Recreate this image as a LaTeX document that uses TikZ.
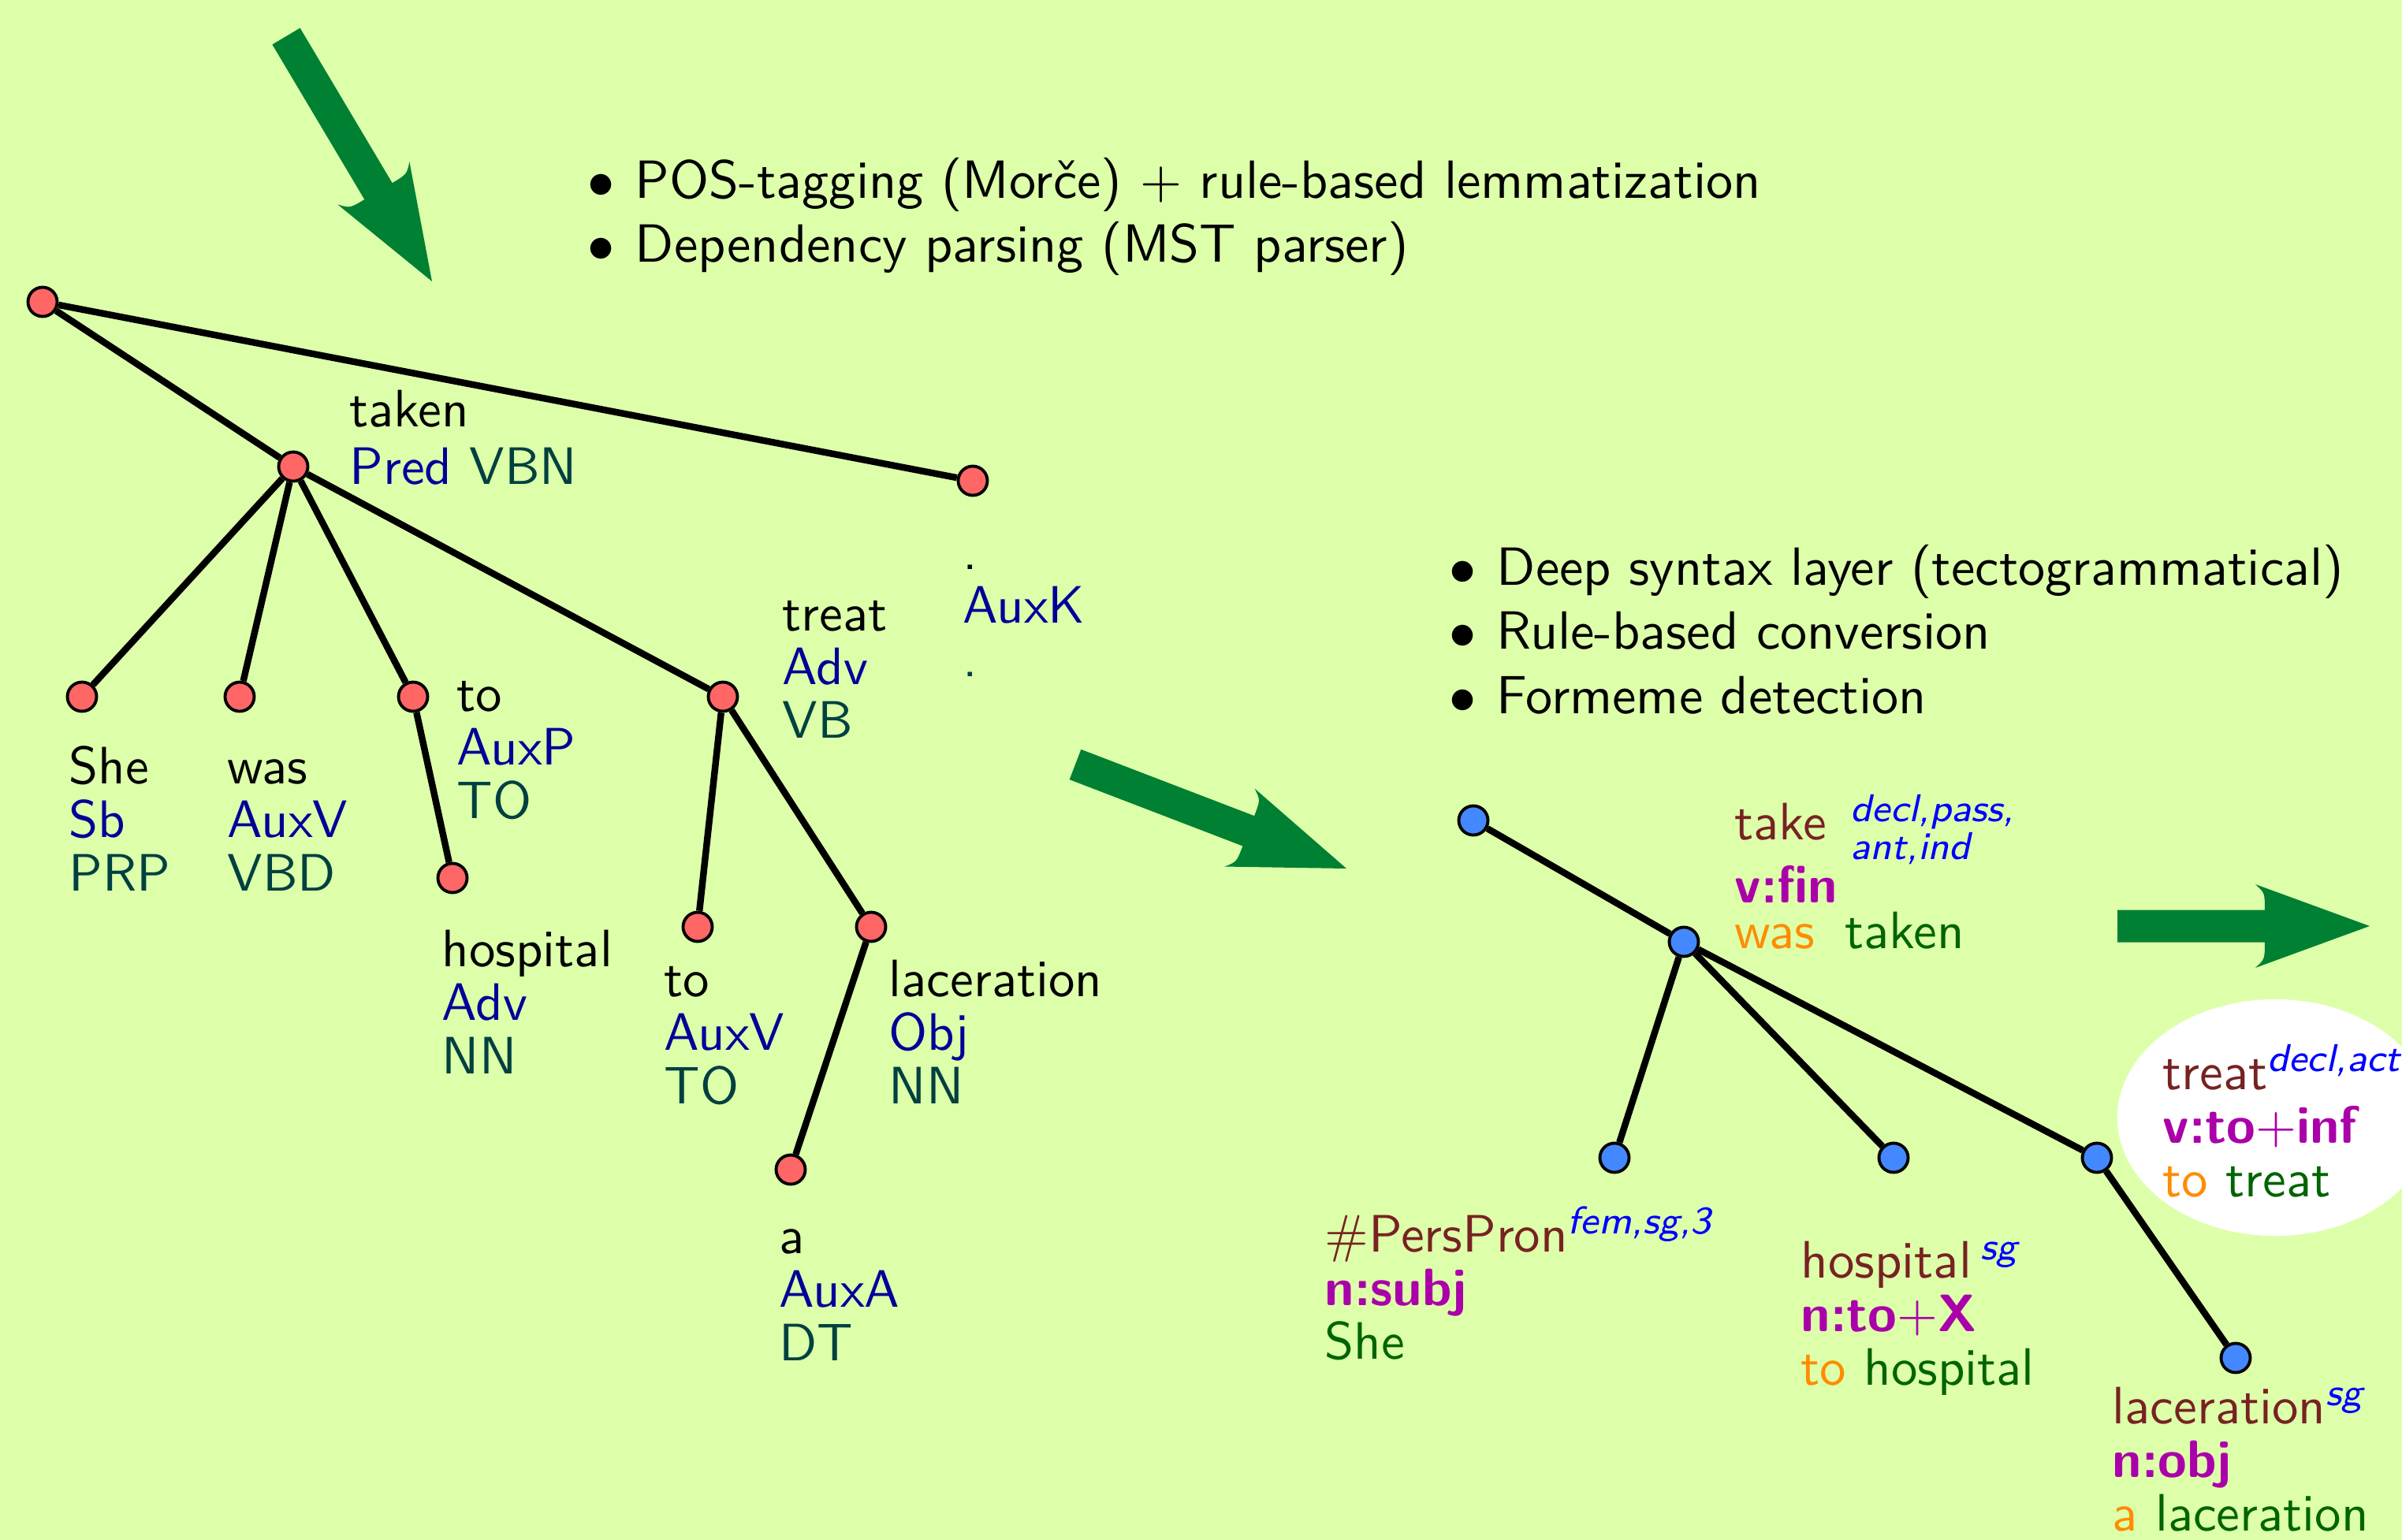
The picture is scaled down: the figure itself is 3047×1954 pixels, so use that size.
\documentclass[tikz,border=0pt]{standalone}
\usepackage{graphicx}
\usetikzlibrary{calc}
\definecolor{bgc}{HTML}{DDFFAA}
\definecolor{arrowgreen}{HTML}{008033}
\definecolor{fnblue}{HTML}{000099}
\definecolor{tagteal}{HTML}{004040}
\definecolor{lemred}{HTML}{772222}
\definecolor{gramblue}{HTML}{0000FF}
\definecolor{frmmag}{HTML}{AA00AA}
\definecolor{auxorange}{HTML}{FF8C00}
\definecolor{cwgreen}{HTML}{006400}
\definecolor{rednode}{HTML}{FF6666}
\definecolor{bluenode}{HTML}{4488FF}
\pgfdeclarelayer{back}
\pgfdeclarelayer{edges}
\pgfsetlayers{back,edges,main}
\newcommand\lblfont{\fontsize{10}{10.18}\selectfont\sffamily}
\newcommand\bulfont{\fontsize{10}{11.96}\selectfont\sffamily}
\newcommand\gramfont{\fontsize{7.37}{7.19}\selectfont\sffamily\slshape}
\newcommand\stk[1]{\scalebox{1.9}{\begin{tabular}[t]{@{}l@{}}#1\end{tabular}}}
\newcommand\bstk[1]{\scalebox{1.94}{\begin{tabular}[t]{@{}l@{}}#1\end{tabular}}}
\newcommand\bul{\makebox[0.31cm][l]{$\bullet$}}
\newcommand\fn[1]{{\color{fnblue}#1}}
\newcommand\tg[1]{{\color{tagteal}#1}}
\newcommand\lem[1]{{\color{lemred}#1}}
\newcommand\frm[1]{{\color{frmmag}\bfseries #1}}
\newcommand\aux[1]{{\color{auxorange}#1}}
\newcommand\cw[1]{{\color{cwgreen}#1}}
\newcommand\gram[1]{\smash{\raisebox{3.4pt}{\gramfont\color{gramblue}#1}}}
\newcommand\fatarrow[3]{%
  \coordinate (#3j) at ($(#2)!1.33cm!(#1)$);
  \coordinate (#3c) at ($(#2)!1.45cm!(#1)$);
  \fill[arrowgreen]
    ($(#1)!0.205cm!90:(#2)$) -- ($(#3j)!0.205cm!90:(#2)$)
    .. controls ($(#3j)!0.42cm!90:(#2)$) .. ($(#3c)!0.53cm!90:(#2)$)
    -- (#2)
    -- ($(#3c)!0.53cm!-90:(#2)$)
    .. controls ($(#3j)!0.42cm!-90:(#2)$) .. ($(#3j)!0.205cm!-90:(#2)$)
    -- ($(#1)!0.205cm!-90:(#2)$) -- cycle;}
\tikzset{
  lbl/.style={anchor=base west, inner sep=0pt, font=\lblfont},
  rnode/.style={circle, draw=black, line width=1.1pt, fill=rednode, minimum size=0.37cm, inner sep=0pt},
  bnode/.style={circle, draw=black, line width=1.1pt, fill=bluenode, minimum size=0.37cm, inner sep=0pt},
  edge/.style={line width=2.4pt, black},
}
\begin{document}
\begin{tikzpicture}[x=0.01cm,y=-0.01cm]
\useasboundingbox (0,0) rectangle (3047,1954);
\clip (0,0) rectangle (3047,1954);
\begin{pgfonlayer}{back}
  \fill[bgc] (0,0) rectangle (3047,1954);
  \fill[white] (2886,1418) ellipse [x radius=2cm, y radius=1.5cm];
\end{pgfonlayer}

% big arrows
\coordinate (a1s) at (363,46);   \coordinate (a1t) at (548,357);
\coordinate (a2s) at (1364,970); \coordinate (a2t) at (1708,1102);
\coordinate (a3s) at (2686,1175); \coordinate (a3t) at (3006,1175);
\fatarrow{a1s}{a1t}{a1}
\fatarrow{a2s}{a2t}{a2}
\fatarrow{a3s}{a3t}{a3}

% bullet lists
\node[lbl, font=\bulfont] (b1) at (745,251) {\bstk{\bul POS-tagging (Morče) $+$ rule-based lemmatization\\
  \bul Dependency parsing (MST parser)}};
\node[lbl, font=\bulfont] (b2) at (1838,742) {\bstk{\bul Deep syntax layer (tectogrammatical)\\
  \bul Rule-based conversion\\ \bul Formeme detection}};

% analytical tree
\node[rnode] (r0) at (54,383) {};
\node[rnode] (r1) at (372,592) {};
\node[rnode] (rk) at (1234,610) {};
\node[rnode] (rshe) at (104,884) {};
\node[rnode] (rwas) at (304,884) {};
\node[rnode] (rtoP) at (524,884) {};
\node[rnode] (rtreat) at (917,884) {};
\node[rnode] (rhosp) at (574,1114) {};
\node[rnode] (rtoV) at (885,1176) {};
\node[rnode] (rlac) at (1105,1176) {};
\node[rnode] (ra) at (1003,1484) {};
\begin{pgfonlayer}{edges}
  \draw[edge] (r0) -- (r1);
  \draw[edge] (r0) -- (rk);
  \draw[edge] (r1) -- (rshe);
  \draw[edge] (r1) -- (rwas);
  \draw[edge] (r1) -- (rtoP);
  \draw[edge] (r1) -- (rtreat);
  \draw[edge] (rtoP) -- (rhosp);
  \draw[edge] (rtreat) -- (rtoV);
  \draw[edge] (rtreat) -- (rlac);
  \draw[edge] (rlac) -- (ra);
\end{pgfonlayer}

\node[lbl] (ltaken) at (443,541) {\stk{taken\\[0.8pt]\fn{Pred} \tg{VBN}}};
\node[lbl] (lk) at (1221,722) {\stk{.\\\fn{AuxK}\\\tg{.}}};
\node[lbl] (lshe) at (87,994) {\stk{She\\\fn{Sb}\\\tg{PRP}}};
\node[lbl] (lwas) at (288,994) {\stk{was\\\fn{AuxV}\\\tg{VBD}}};
\node[lbl] (ltoP) at (579,902) {\stk{to\\\fn{AuxP}\\\tg{TO}}};
\node[lbl] (ltreat) at (992,800) {\stk{treat\\\fn{Adv}\\\tg{VB}}};
\node[lbl] (lhosp) at (560,1226) {\stk{hospital\\\fn{Adv}\\\tg{NN}}};
\node[lbl] (ltoV) at (842,1264) {\stk{to\\\fn{AuxV}\\\tg{TO}}};
\node[lbl] (llac) at (1127,1264) {\stk{laceration\\\fn{Obj}\\\tg{NN}}};
\node[lbl] (la) at (988,1590) {\stk{a\\\fn{AuxA}\\\tg{DT}}};

% tectogrammatical tree
\node[bnode] (t0) at (1869,1041) {};
\node[bnode] (t1) at (2136,1195) {};
\node[bnode] (tpp) at (2048,1469) {};
\node[bnode] (thosp) at (2402,1469) {};
\node[bnode] (ttreat) at (2660,1469) {};
\node[bnode] (tlac) at (2836,1723) {};
\begin{pgfonlayer}{edges}
  \draw[edge] (t0) -- (t1);
  \draw[edge] (t1) -- (tpp);
  \draw[edge] (t1) -- (thosp);
  \draw[edge] (t1) -- (ttreat);
  \draw[edge] (ttreat) -- (tlac);
\end{pgfonlayer}

\node[lbl] (ttake) at (2200,1065) {\stk{\lem{take}}};
\node[lbl, font=\gramfont, text=gramblue] (gtake) at (2347,1042) {\stk{decl,pass,\\ant,ind}};
\node[lbl] (ftake) at (2200,1145) {\stk{\frm{v:fin}}};
\node[lbl] (wtake) at (2200,1203) {\stk{\aux{was}}};
\node[lbl] (ctake) at (2340,1203) {\stk{\cw{taken}}};
\node[lbl] (tlpp) at (1680,1588) {\stk{\lem{\#PersPron}\gram{fem,sg,3}\\\frm{n:subj}\\\cw{She}}};
\node[lbl] (tlhosp) at (2284,1621) {\stk{\lem{hospital}\,\gram{sg}\\\frm{n:to$+$X}\\\aux{to} \cw{hospital}}};
\node[lbl] (tltreat) at (2743,1382) {\stk{\lem{treat}\gram{decl,act}\\\frm{v:to$+$inf}\\\aux{to} \cw{treat}}};
\node[lbl] (tllac) at (2679,1806) {\stk{\lem{laceration}\gram{sg}\\\frm{n:obj}\\\aux{a} \cw{laceration}}};
\end{tikzpicture}
\end{document}
